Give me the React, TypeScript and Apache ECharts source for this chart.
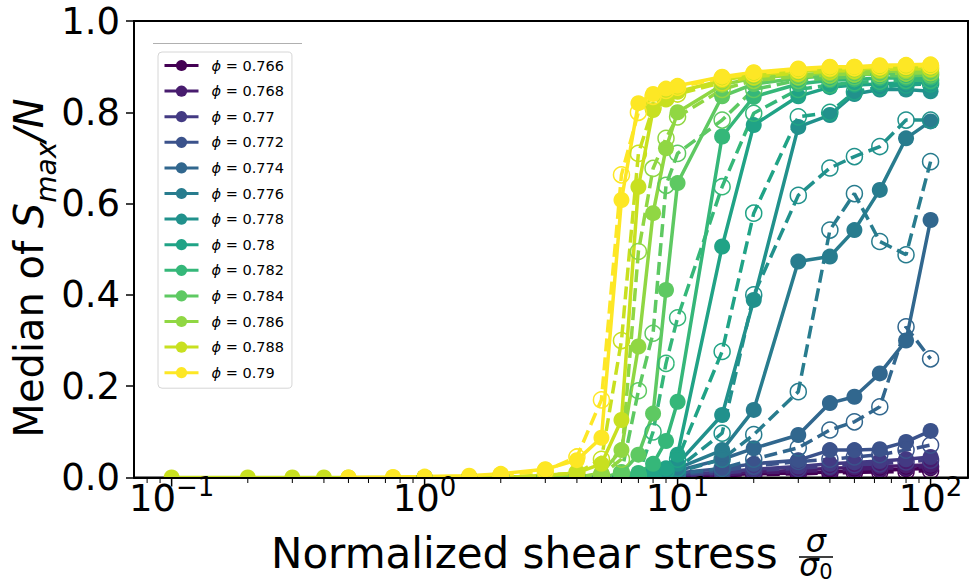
import React, { useEffect, useRef } from 'react';
import * as echarts from 'echarts';

const N = null;
const STRESS = [0.1, 0.2, 0.3, 0.4, 0.5, 0.75, 1, 1.5, 2, 3, 4, 5, 6, 7, 8, 9, 10, 15, 20, 30, 40, 50, 63, 80, 100];
const PHI = ['0.766', '0.768', '0.77', '0.772', '0.774', '0.776', '0.778', '0.78', '0.782', '0.784', '0.786', '0.788', '0.79'];
const COLORS = ['#440154', '#481c6e', '#433a83', '#3b528b', '#31678e', '#287c8e', '#21918c', '#20a386', '#35b779', '#5ec962', '#90d743', '#c8e020', '#fde725'];

// solid (filled markers)
const S_766 = [N, N, N, N, N, N, 0, 0, 0, 0, 0, 0, 0, 0, 0, 0, 0.003, 0.006, 0.008, 0.010, 0.012, 0.014, 0.016, 0.018, 0.020];
const S_768 = [N, N, N, N, N, N, 0, 0, 0, 0, 0, 0, 0, 0, 0, 0, 0.004, 0.008, 0.012, 0.016, 0.020, 0.022, 0.024, 0.026, 0.028];
const S_770 = [N, N, N, N, N, N, 0, 0, 0, 0, 0, 0, 0, 0, 0, 0, 0.006, 0.012, 0.018, 0.024, 0.030, 0.033, 0.036, 0.040, 0.045];
const S_772 = [N, N, N, N, N, N, 0, 0, 0, 0, 0, 0, 0, 0, 0, 0, 0.010, 0.020, 0.030, 0.038, 0.060, 0.060, 0.062, 0.078, 0.102];
const S_774 = [N, N, N, N, N, N, 0, 0, 0, 0, 0, 0, 0, 0, 0, 0.005, 0.015, 0.040, 0.064, 0.093, 0.163, 0.177, 0.228, 0.300, 0.564];
const S_776 = [N, N, N, N, N, N, 0, 0, 0, 0, 0, 0, 0, 0, 0, 0.005, 0.020, 0.060, 0.148, 0.473, 0.484, 0.542, 0.630, 0.743, 0.780];
const S_778 = [N, N, N, N, N, N, 0, 0, 0, 0, 0, 0, 0, 0, 0.005, 0.010, 0.030, 0.137, 0.389, 0.768, 0.794, 0.840, 0.850, 0.850, 0.846];
const S_780 = [N, N, N, N, N, N, 0, 0, 0, 0, 0, 0, 0, 0, 0.010, 0.020, 0.050, 0.506, 0.772, 0.835, 0.855, 0.860, 0.862, 0.865, 0.865];
const S_782 = [N, N, N, N, N, N, 0, 0, 0, 0, 0, 0, 0, 0.010, 0.030, 0.080, 0.166, 0.747, 0.834, 0.862, 0.870, 0.872, 0.875, 0.875, 0.876];
const S_784 = [N, N, N, N, N, N, 0, 0, 0, 0, 0, 0, 0.010, 0.050, 0.140, 0.411, 0.645, 0.835, 0.862, 0.875, 0.880, 0.882, 0.884, 0.885, 0.886];
const S_786 = [N, N, N, N, N, N, 0, 0, 0, 0, 0, 0.010, 0.060, 0.287, 0.579, 0.721, 0.800, 0.860, 0.875, 0.882, 0.886, 0.888, 0.890, 0.890, 0.892];
const S_788 = [0, 0, 0, 0, 0, 0, 0, 0, 0, 0.005, 0.010, 0.030, 0.126, 0.637, 0.805, 0.830, 0.845, 0.870, 0.882, 0.890, 0.893, 0.895, 0.897, 0.898, 0.900];
const S_790 = [N, N, N, N, 0, 0.001, 0.002, 0.004, 0.008, 0.018, 0.038, 0.087, 0.608, 0.820, 0.840, 0.852, 0.858, 0.878, 0.888, 0.896, 0.900, 0.900, 0.903, 0.904, 0.905];

// dashed (open markers)
const D_766 = [N, N, N, N, N, N, N, N, 0, 0, 0, 0, 0, 0, 0, 0, 0.002, 0.004, 0.006, 0.008, 0.010, 0.011, 0.012, 0.013, 0.015];
const D_768 = [N, N, N, N, N, N, N, N, 0, 0, 0, 0, 0, 0, 0, 0, 0.003, 0.006, 0.010, 0.013, 0.016, 0.018, 0.020, 0.022, 0.024];
const D_770 = [N, N, N, N, N, N, N, N, 0, 0, 0, 0, 0, 0, 0, 0, 0.004, 0.010, 0.015, 0.020, 0.025, 0.028, 0.030, 0.034, 0.038];
const D_772 = [N, N, N, N, N, N, N, N, 0, 0, 0, 0, 0, 0, 0, 0, 0.006, 0.015, 0.025, 0.035, 0.040, 0.045, 0.050, 0.060, 0.071];
const D_774 = [N, N, N, N, N, N, N, N, 0, 0, 0, 0, 0, 0, 0, 0.003, 0.008, 0.020, 0.040, 0.065, 0.104, 0.122, 0.155, 0.330, 0.260];
const D_776 = [N, N, N, N, N, N, N, N, 0, 0, 0, 0, 0, 0, 0, 0.004, 0.012, 0.040, 0.094, 0.188, 0.542, 0.622, 0.517, 0.488, 0.692];
const D_778 = [N, N, N, N, N, N, N, N, 0, 0, 0, 0, 0, 0, 0.004, 0.008, 0.020, 0.097, 0.400, 0.618, 0.678, 0.703, 0.725, 0.783, 0.783];
const D_780 = [N, N, N, N, N, N, N, N, 0, 0, 0, 0, 0, 0, 0.006, 0.015, 0.040, 0.276, 0.579, 0.790, 0.800, 0.845, 0.855, 0.860, 0.862];
const D_782 = [N, N, N, N, N, N, N, N, 0, 0, 0, 0, 0, 0.005, 0.100, 0.250, 0.350, 0.637, 0.798, 0.850, 0.860, 0.865, 0.868, 0.870, 0.870];
const D_784 = [N, N, N, N, N, N, N, N, 0, 0, 0, 0, 0.010, 0.190, 0.316, 0.640, 0.710, 0.783, 0.850, 0.870, 0.875, 0.878, 0.880, 0.880, 0.882];
const D_786 = [N, N, N, N, N, N, N, N, 0, 0, 0, 0.005, 0.040, 0.495, 0.677, 0.743, 0.790, 0.850, 0.870, 0.878, 0.882, 0.884, 0.885, 0.886, 0.887];
const D_788 = [N, N, N, N, N, N, N, N, 0, 0.005, 0.010, 0.040, 0.300, 0.710, 0.810, 0.830, 0.840, 0.865, 0.878, 0.886, 0.890, 0.892, 0.894, 0.895, 0.896];
const D_790 = [N, N, N, N, N, N, N, N, 0.005, 0.015, 0.045, 0.170, 0.663, 0.800, 0.835, 0.848, 0.855, 0.875, 0.885, 0.893, 0.897, 0.898, 0.900, 0.901, 0.902];

const SOLID = [S_766, S_768, S_770, S_772, S_774, S_776, S_778, S_780, S_782, S_784, S_786, S_788, S_790];
const DASHED = [D_766, D_768, D_770, D_772, D_774, D_776, D_778, D_780, D_782, D_784, D_786, D_788, D_790];

const X_MAJOR = [0.1, 1, 10, 100];
const X_MINOR = [0.08, 0.09, 0.2, 0.3, 0.4, 0.5, 0.6, 0.7, 0.8, 0.9, 2, 3, 4, 5, 6, 7, 8, 9, 20, 30, 40, 50, 60, 70, 80, 90];
const Y_TICKS_MAX = 1.0;

const FONT = 'DejaVu Sans';

function pairs(vals: (number | null)[]) {
  return STRESS.map((x, i) => [x, vals[i]]).filter((p) => p[1] !== null);
}

function buildOption() {
  const series: any[] = [];
  PHI.forEach((phi, k) => {
    const c = COLORS[k];
    series.push({
      name: phi,
      type: 'line',
      data: pairs(SOLID[k]),
      symbol: 'circle',
      symbolSize: 16,
      lineStyle: { color: c, width: 3.5 },
      itemStyle: { color: c },
      z: 2,
      silent: true,
    });
    series.push({
      name: phi + ' (dashed)',
      type: 'line',
      data: pairs(DASHED[k]),
      symbol: 'circle',
      symbolSize: 16,
      lineStyle: { color: c, width: 3.5, type: [13, 6] },
      itemStyle: { color: 'rgba(0,0,0,0)', borderColor: c, borderWidth: 1.5 },
      z: 2,
      silent: true,
    });
  });
  series.push({
    type: 'custom',
    name: 'xticks',
    silent: true,
    clip: false,
    z: 12,
    data: [...X_MAJOR.map((v) => [v, 1]), ...X_MINOR.map((v) => [v, 0])],
    renderItem: (params: any, api: any) => {
      const x = api.value(0);
      const major = api.value(1) === 1;
      const p = api.coord([x, 0]);
      const len = major ? 8 : 4.5;
      return {
        type: 'line',
        shape: { x1: p[0], y1: p[1] + 1, x2: p[0], y2: p[1] + 1 + len },
        style: { stroke: '#000', lineWidth: major ? 1.5 : 1 },
      };
    },
  });

  return {
    animation: false,
    backgroundColor: '#fff',
    grid: { left: 134, top: 21, right: 2, bottom: 106.5, show: true, borderColor: '#000', borderWidth: 2, backgroundColor: 'transparent' },
    xAxis: {
      type: 'log',
      logBase: 10,
      min: 0.071,
      max: 140.6,
      z: 10,
      axisLine: { show: true, lineStyle: { color: '#000', width: 2 } },
      axisTick: { show: false },
      splitLine: { show: false },
      axisLabel: {
        margin: 3,
        color: '#000',
        formatter: (v: number) => {
          const e = Math.log10(v);
          const r = Math.round(e);
          if (Math.abs(e - r) > 1e-6) return '';
          return `{b|10}{s|${r < 0 ? '\u2212' + -r : r}}`;
        },
        rich: {
          b: { fontFamily: FONT, fontSize: 37, lineHeight: 36, verticalAlign: 'bottom', color: '#000' },
          s: { fontFamily: FONT, fontSize: 26, lineHeight: 25, verticalAlign: 'bottom', padding: [0, 0, 17, 0], color: '#000' },
        },
      },
    },
    yAxis: {
      type: 'value',
      min: 0,
      max: Y_TICKS_MAX,
      interval: 0.2,
      z: 10,
      axisLine: { show: true, lineStyle: { color: '#000', width: 2 } },
      axisTick: { show: true, length: 8, lineStyle: { color: '#000', width: 1.5 } },
      splitLine: { show: false },
      axisLabel: { margin: 14, fontFamily: FONT, fontSize: 37, color: '#000', formatter: (v: number) => v.toFixed(1) },
    },
    legend: {
      data: PHI,
      orient: 'vertical',
      left: 158,
      top: 52,
      itemWidth: 34,
      itemHeight: 14,
      itemGap: 10.6,
      padding: [6, 8, 8, 5],
      backgroundColor: '#fff',
      borderColor: '#d6d6d6',
      borderWidth: 1,
      borderRadius: 4,
      selectedMode: false,
      z: 20,
      lineStyle: { width: 3 },
      formatter: (n: string) => `{p|\u03d5} = ${n}`,
      textStyle: {
        fontFamily: FONT,
        fontSize: 14.5,
        lineHeight: 15,
        color: '#000',
        padding: [0, 0, 0, 8],
        rich: { p: { fontFamily: FONT, fontStyle: 'italic', fontSize: 14.5, lineHeight: 15, color: '#000' } },
      },
    },
    graphic: [
      { type: 'rect', z: 5, silent: true, shape: { x: 0, y: 478.5, width: 971, height: 106 }, style: { fill: '#fff' } },
      { type: 'line', z: 30, silent: true, shape: { x1: 153, y1: 43.5, x2: 302, y2: 43.5 }, style: { stroke: '#b0b0b0', lineWidth: 1 } },
      {
        type: 'text', z: 30, silent: true, x: 271, y: 553,
        style: { text: 'Normalized shear stress', fontFamily: FONT, fontSize: 42, fill: '#000', align: 'left', verticalAlign: 'middle' },
      },
      {
        type: 'text', z: 30, silent: true, x: 816, y: 541,
        style: { text: '\u03c3', fontFamily: FONT, fontStyle: 'italic', fontSize: 32, fill: '#000', align: 'center', verticalAlign: 'middle' },
      },
      { type: 'line', z: 30, silent: true, shape: { x1: 799, y1: 557, x2: 833, y2: 557 }, style: { stroke: '#000', lineWidth: 1.5 } },
      {
        type: 'text', z: 30, silent: true, x: 809, y: 565,
        style: { text: '\u03c3', fontFamily: FONT, fontStyle: 'italic', fontSize: 31, fill: '#000', align: 'center', verticalAlign: 'middle' },
      },
      {
        type: 'text', z: 30, silent: true, x: 826, y: 572,
        style: { text: '0', fontFamily: FONT, fontSize: 21, fill: '#000', align: 'center', verticalAlign: 'middle' },
      },
      {
        type: 'text', z: 30, silent: true, x: 60, y: 268, rotation: Math.PI / 2,
        style: {
          text: '{a|Median of }{i|S}{s|max}{i|/N}',
          align: 'center',
          verticalAlign: 'bottom',
          fill: '#000',
          rich: {
            a: { fontFamily: FONT, fontSize: 40, lineHeight: 40, padding: [0, 0, 11, 0], verticalAlign: 'bottom', fill: '#000' },
            i: { fontFamily: FONT, fontStyle: 'italic', fontSize: 40, lineHeight: 40, padding: [0, 0, 11, 0], verticalAlign: 'bottom', fill: '#000' },
            s: { fontFamily: FONT, fontStyle: 'italic', fontSize: 28, lineHeight: 28, verticalAlign: 'bottom', fill: '#000' },
          },
        },
      },
    ],
    series,
  };
}

export default function App() {
  const ref = useRef<HTMLDivElement>(null);
  useEffect(() => {
    const chart = echarts.init(ref.current as HTMLDivElement, null, { renderer: 'svg' });
    chart.setOption(buildOption() as any);
    return () => chart.dispose();
  }, []);
  return (
    <div
      ref={ref}
      style={{ position: 'absolute', left: 0, top: 0, width: 971, height: 584, background: '#fff' }}
    />
  );
}
